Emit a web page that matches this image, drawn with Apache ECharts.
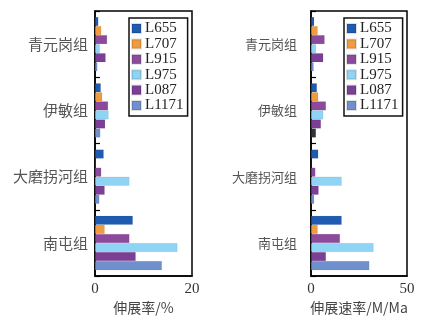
<!DOCTYPE html>
<html><head><meta charset="utf-8">
<script src="https://cdn.jsdelivr.net/npm/echarts@6/dist/echarts.min.js"></script>
<style>html,body{margin:0;padding:0;background:#fff}#c{width:427px;height:320px}</style>
</head><body><div id="c"></div>
<script>
const categories = ['青元岗组','伊敏组','大磨拐河组','南屯组'];
const seriesNames = ['L655','L707','L915','L975','L087','L1171'];
const colors = ['#1f5bb1','#f09b3d','#8c4a9c','#8fd4f4','#7b3f96','#7090cd'];
// 伸展率 (%)
const rateL655  = [0.7, 1.2, 1.8, 7.8];
const rateL707  = [1.3, 1.5, 0.15, 2.0];
const rateL915  = [2.5, 2.7, 1.3, 7.1];
const rateL975  = [1.0, 2.8, 7.1, 17.0];
const rateL087  = [2.2, 2.1, 2.0, 8.4];
const rateL1171 = [0.5, 1.1, 0.9, 13.8];
// 伸展速率 (M/Ma)
const speedL655  = [1.7, 3.1, 3.8, 16.0];
const speedL707  = [3.5, 3.8, 0.3, 3.5];
const speedL915  = [7.1, 7.8, 2.3, 15.1];
const speedL975  = [2.6, 6.4, 16.0, 32.6];
const speedL087  = [6.4, 5.2, 4.0, 7.8];
const speedL1171 = [1.4, 2.6, 1.7, 30.4];
const xTicksRate = [0, 20];
const xTicksSpeed = [0, 50];

const rateData = [rateL655, rateL707, rateL915, rateL975, rateL087, rateL1171];
const speedData = [speedL655, speedL707, speedL915, speedL975, speedL087, speedL1171];

const serif = '"Liberation Serif","DejaVu Serif",serif';
const cjk = '"Noto Sans CJK SC","Liberation Serif",serif';

function xAxis(idx, ticks, name, nameX){
  return {
    gridIndex: idx, type: 'value', min: ticks[0], max: ticks[1], interval: ticks[1]-ticks[0],
    axisLine: {show: true, lineStyle: {color: '#000', width: 1.5}},
    axisTick: {show: false}, splitLine: {show: false},
    axisLabel: {fontFamily: serif, fontSize: 15, color: '#333', margin: 5},
    name: name, nameLocation: 'middle', nameGap: 22,
    nameTextStyle: {fontFamily: cjk, fontSize: 14, color: '#444'}
  };
}
function yAxis(idx, fs, margin){
  return {
    gridIndex: idx, type: 'category', data: categories, inverse: true,
    axisLine: {show: true, lineStyle: {color: '#000', width: 1.5}},
    axisTick: {show: true, inside: true, length: 5, lineStyle: {color: '#000', width: 1.2}},
    axisLabel: {fontFamily: cjk, fontSize: fs, color: '#555', margin: margin}
  };
}
function legend(left){
  return {
    data: seriesNames, orient: 'vertical', left: left, top: 18,
    icon: 'rect', itemWidth: 9, itemHeight: 9, itemGap: 0.4,
    borderColor: '#111', borderWidth: 1.5, padding: [3, 4, 3, 2],
    backgroundColor: '#fff',
    textStyle: {fontFamily: serif, fontSize: 15, color: '#222', lineHeight: 15, padding: [0,0,0,-1]}
  };
}
const series = [];
seriesNames.forEach((n, i) => {
  series.push({name: n, type: 'bar', xAxisIndex: 0, yAxisIndex: 0, data: rateData[i],
    itemStyle: {color: colors[i], borderColor: 'rgba(0,0,0,0.12)', borderWidth: 0.5},
    barGap: '0%', barCategoryGap: '18%'});
});
seriesNames.forEach((n, i) => {
  const d = speedData[i].map((v, j) => (n === 'L1171' && j === 1) ? {value: v, itemStyle: {color: '#333'}} : v);
  series.push({name: n, type: 'bar', xAxisIndex: 1, yAxisIndex: 1, data: d,
    itemStyle: {color: colors[i], borderColor: 'rgba(0,0,0,0.12)', borderWidth: 0.5},
    barGap: '0%', barCategoryGap: '18%'});
});

const chart = echarts.init(document.getElementById('c'), null, {renderer: 'canvas'});
chart.setOption({
  animation: false,
  backgroundColor: '#fff',
  grid: [
    {left: 95, right: 235, top: 11, bottom: 39, show: true, borderColor: '#000', borderWidth: 1.5},
    {left: 311, right: 20, top: 11, bottom: 39, show: true, borderColor: '#000', borderWidth: 1.5}
  ],
  xAxis: [xAxis(0, xTicksRate, '伸展率/%'), xAxis(1, xTicksSpeed, '伸展速率/M/Ma')],
  yAxis: [yAxis(0, 15, 7), yAxis(1, 13, 14)],
  legend: [legend(129), legend(344)],
  series: series
});
</script></body></html>
